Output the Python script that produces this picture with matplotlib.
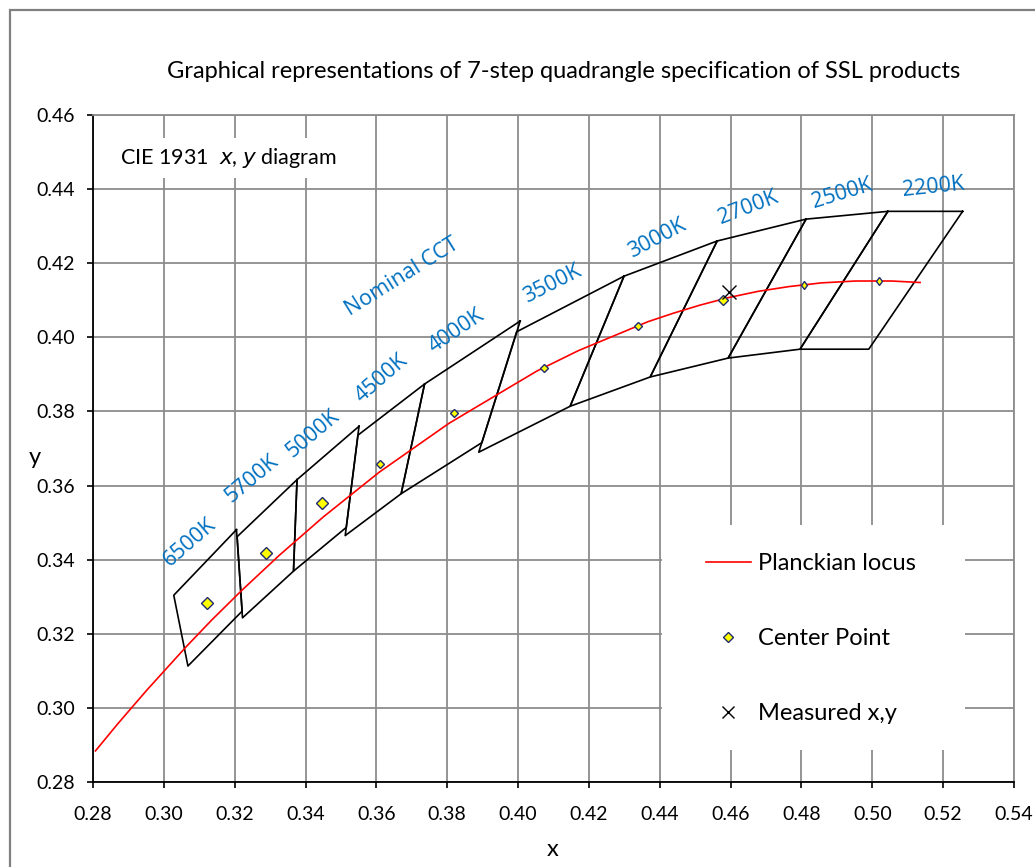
import matplotlib.pyplot as plt
from matplotlib.lines import Line2D
from matplotlib.patches import Rectangle
import numpy as np

# Planckian locus points (CIE 1931 x, y)
planck_x = [0.2807, 0.2869, 0.2952, 0.3064, 0.3135, 0.3221, 0.3325, 0.3451, 0.3608, 0.3805,
            0.4053, 0.4170, 0.4366, 0.4438, 0.4514, 0.4593, 0.4677, 0.4765, 0.4857, 0.4953,
            0.5054, 0.5135]
planck_y = [0.2884, 0.2956, 0.3048, 0.3166, 0.3237, 0.3318, 0.3411, 0.3516, 0.3636, 0.3768,
            0.3909, 0.3964, 0.4042, 0.4065, 0.4087, 0.4107, 0.4124, 0.4137, 0.4147, 0.4152,
            0.4152, 0.4148]

# nominal CCT, center points
cct_labels = ['6500K', '5700K', '5000K', '4500K', '4000K', '3500K', '3000K', '2700K', '2500K', '2200K']
center_x = [0.3123, 0.3287, 0.3447, 0.3611, 0.3818, 0.4073, 0.4338, 0.4578, 0.4806, 0.5018]
center_y = [0.3282, 0.3417, 0.3553, 0.3658, 0.3797, 0.3917, 0.4030, 0.4101, 0.4141, 0.4153]

# quadrangle corners, one list per CCT
quad_x = [
    [0.3205, 0.3028, 0.3068, 0.3221],
    [0.3376, 0.3207, 0.3222, 0.3366],
    [0.3551, 0.3376, 0.3366, 0.3515],
    [0.3736, 0.3548, 0.3512, 0.3670],
    [0.4006, 0.3736, 0.3670, 0.3898],
    [0.4299, 0.3996, 0.3889, 0.4147],
    [0.4562, 0.4299, 0.4147, 0.4373],
    [0.4813, 0.4562, 0.4373, 0.4593],
    [0.5044, 0.4813, 0.4593, 0.4796],
    [0.5255, 0.5044, 0.4796, 0.4990],
]
quad_y = [
    [0.3481, 0.3304, 0.3113, 0.3261],
    [0.3616, 0.3462, 0.3243, 0.3369],
    [0.3760, 0.3616, 0.3369, 0.3487],
    [0.3874, 0.3736, 0.3465, 0.3578],
    [0.4044, 0.3874, 0.3578, 0.3716],
    [0.4165, 0.4015, 0.3690, 0.3814],
    [0.4260, 0.4165, 0.3814, 0.3893],
    [0.4319, 0.4260, 0.3893, 0.3944],
    [0.4340, 0.4319, 0.3944, 0.3968],
    [0.4340, 0.4340, 0.3968, 0.3968],
]

measured_x = [0.4595]
measured_y = [0.4122]

# label placement (x, y, rotation)
label_pos = [(0.3074, 0.3446, 41), (0.3250, 0.3618, 40), (0.3421, 0.3741, 40),
             (0.3613, 0.3888, 41), (0.3827, 0.4016, 34), (0.4098, 0.4143, 27),
             (0.4392, 0.4266, 28), (0.4649, 0.4349, 21), (0.4914, 0.4389, 17),
             (0.5171, 0.4405, 6)]

W, H = 1035, 867
fig = plt.figure(figsize=(W / 100, H / 100), dpi=100)
fig.patches.append(Rectangle((10 / W, -0.1), 1.2, 1 - 10 / H + 0.1, transform=fig.transFigure,
                             facecolor='none', edgecolor='#808080', lw=1.6))

ax = fig.add_axes([93 / W, 1 - 782 / H, (1014 - 93) / W, (782 - 115) / H])
ax.set_xlim(0.28, 0.54)
ax.set_ylim(0.28, 0.46)
xt = np.arange(0.28, 0.5401, 0.02)
yt = np.arange(0.28, 0.4601, 0.02)
ax.set_xticks(xt)
ax.set_yticks(yt)
ax.set_axisbelow(True)
ax.grid(True, color='#8c8c8c', lw=1.3)
for s in ['top', 'right']:
    ax.spines[s].set_color('#8c8c8c')
    ax.spines[s].set_linewidth(1.3)
for s in ['left', 'bottom']:
    ax.spines[s].set_color('black')
    ax.spines[s].set_linewidth(1.3)
ax.tick_params(direction='out', length=4, width=1.2, color='black')
ax.tick_params(axis='x', pad=13)
ax.tick_params(axis='y', pad=9)
ax.set_xticklabels([f'{v:.2f}' for v in xt], fontsize=14, family='Lato')
ax.set_yticklabels([f'{v:.2f}' for v in yt], fontsize=14, family='Lato')

# quadrangles
for qx, qy in zip(quad_x, quad_y):
    ax.plot(qx + qx[:1], qy + qy[:1], color='black', lw=1.2, zorder=3)

ax.plot(planck_x, planck_y, color='red', lw=1.2, zorder=4)

sizes = [6, 6, 6, 4.5, 4.5, 4.5, 4.5, 5.5, 4.5, 4.5]
for cx, cy, ms, lab in zip(center_x, center_y, sizes, cct_labels):
    mk = 'd' if lab in ('2500K', '2200K') else 'D'
    ax.plot(cx, cy, marker=mk, ms=ms, mfc='#ffff00', mec='#1f2a70', mew=1.0, ls='none', zorder=5)

ax.plot(measured_x, measured_y, marker='x', ms=10, color='black', mew=1.0, ls='none', zorder=6)

for lab, (lx, ly, rot) in zip(cct_labels, label_pos):
    ax.text(lx, ly, lab, color='#0070c0', fontsize=15.5, family='Open Sans', rotation=rot,
            ha='center', va='center', rotation_mode='anchor', zorder=7)
ax.text(0.3673, 0.4163, 'Nominal CCT', color='#0070c0', fontsize=15.5, family='Open Sans',
        rotation=32, ha='center', va='center', rotation_mode='anchor', zorder=7)

ax.text(0.2877, 0.4484, 'CIE 1931  $\\it{x}$, $\\it{y}$ diagram', fontsize=15.5, family='Lato',
        ha='left', va='center', zorder=7,
        bbox=dict(facecolor='white', edgecolor='none', pad=6))

# legend area
ax.add_patch(Rectangle((0.618, 0.048), 0.329, 0.337, transform=ax.transAxes,
                       facecolor='white', edgecolor='none', zorder=1))
handles = [Line2D([], [], color='red', lw=1.2),
           Line2D([], [], marker='D', ms=5, mfc='#ffff00', mec='#1f2a70', ls='none'),
           Line2D([], [], marker='x', ms=8, color='black', ls='none')]
leg = ax.legend(handles, ['Planckian locus', 'Center Point', 'Measured x,y'],
                loc='upper left', bbox_to_anchor=(694 / W, 1 - 541 / H),
                bbox_transform=fig.transFigure, frameon=False, fontsize=17,
                handlelength=1.9, handletextpad=0.3, labelspacing=2.3, borderpad=0)
for t in leg.get_texts():
    t.set_family('Lato')

fig.text(564 / W, 1 - 72 / H, 'Graphical representations of 7-step quadrangle specification of SSL products',
         ha='center', va='center', fontsize=17, family='Lato')
fig.text(553 / W, 1 - 850 / H, 'x', ha='center', va='center', fontsize=17, family='Lato')
fig.text(35 / W, 1 - 457 / H, 'y', ha='center', va='center', fontsize=17, family='Lato')

fig.savefig('out.png', dpi=100)
